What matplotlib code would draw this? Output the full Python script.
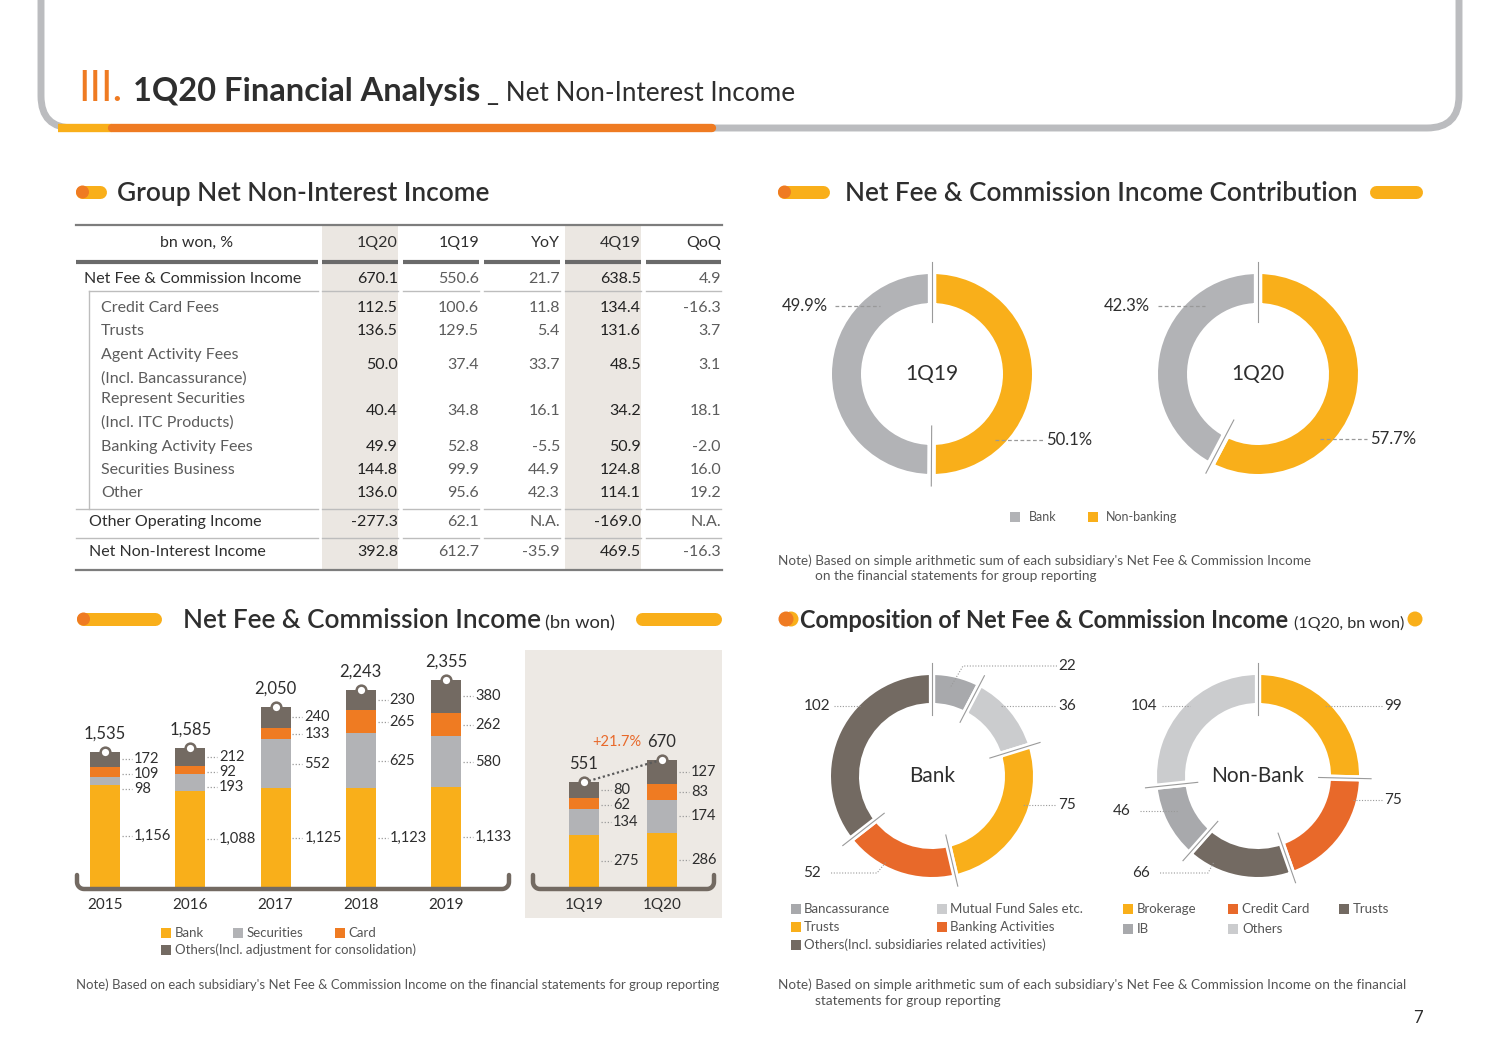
import matplotlib
matplotlib.use('Agg')
import matplotlib.pyplot as plt
from matplotlib.patches import FancyBboxPatch, Rectangle, Circle
import numpy as np

plt.rcParams['font.family'] = ['Lato', 'DejaVu Sans']

# ------------------------------------------------------------------ data
table_cols = ['1Q20', '1Q19', 'YoY', '4Q19', 'QoQ']
table_rows = ['Net Fee & Commission Income', 'Credit Card Fees', 'Trusts',
              'Agent Activity Fees\n(Incl. Bancassurance)',
              'Represent Securities\n(Incl. ITC Products)',
              'Banking Activity Fees', 'Securities Business', 'Other',
              'Other Operating Income', 'Net Non-Interest Income']
val_1q20 = ['670.1', '112.5', '136.5', '50.0', '40.4', '49.9', '144.8', '136.0', '-277.3', '392.8']
val_1q19 = ['550.6', '100.6', '129.5', '37.4', '34.8', '52.8', '99.9', '95.6', '62.1', '612.7']
val_yoy = ['21.7', '11.8', '5.4', '33.7', '16.1', '-5.5', '44.9', '42.3', 'N.A.', '-35.9']
val_4q19 = ['638.5', '134.4', '131.6', '48.5', '34.2', '50.9', '124.8', '114.1', '-169.0', '469.5']
val_qoq = ['4.9', '-16.3', '3.7', '3.1', '18.1', '-2.0', '16.0', '19.2', 'N.A.', '-16.3']

contrib_labels = ['Non-banking', 'Bank']
contrib_1q19 = [50.1, 49.9]
contrib_1q20 = [57.7, 42.3]

years = ['2015', '2016', '2017', '2018', '2019']
ann_bank = [1156, 1088, 1125, 1123, 1133]
ann_sec = [98, 193, 552, 625, 580]
ann_card = [109, 92, 133, 265, 262]
ann_other = [172, 212, 240, 230, 380]
ann_total = [1535, 1585, 2050, 2243, 2355]

quarters = ['1Q19', '1Q20']
q_bank = [275, 286]
q_sec = [134, 174]
q_card = [62, 83]
q_other = [80, 127]
q_total = [551, 670]
q_growth = '+21.7%'

bank_cats = ['Bancassurance', 'Mutual Fund Sales etc.', 'Trusts', 'Banking Activities',
             'Others(Incl. subsidiaries related activities)']
bank_vals = [22, 36, 75, 52, 102]
nonbank_cats = ['Brokerage', 'Credit Card', 'Trusts', 'IB', 'Others']
nonbank_vals = [99, 75, 66, 46, 104]

# ------------------------------------------------------------------ style
YEL = '#F9AF1A'
ORG = '#EF7B22'
ORG2 = '#E8692A'
GRY = '#B2B3B6'
LGRY = '#CBCCCE'
MGRY = '#A8A9AC'
BRN = '#736A62'
TXT = '#2E2E2E'
SUB = '#555555'
SHADE = '#EBE7E2'

W, H = 1499, 1060
fig = plt.figure(figsize=(W / 100, H / 100), dpi=100)
renderer = fig.canvas.get_renderer()


def px_axes(x0, y0, x1, y1, z=2):
    ax = fig.add_axes([x0 / W, 1 - y1 / H, (x1 - x0) / W, (y1 - y0) / H], zorder=z)
    ax.patch.set_alpha(0)
    ax.axis('off')
    return ax


bg = px_axes(0, 0, W, H, z=0)
bg.set_xlim(0, W); bg.set_ylim(H, 0)
fg = px_axes(0, 0, W, H, z=6)
fg.set_xlim(0, W); fg.set_ylim(H, 0)


def fit(ax, x, y, s, width, **kw):
    t = ax.text(x, y, s, **kw)
    bb = t.get_window_extent(renderer=renderer)
    t.set_fontsize(t.get_fontsize() * width / bb.width)
    return t


def pill(x0, x1, y, h, left=ORG, col=YEL):
    bg.plot([x0 + h / 2, x1 - h / 2], [y, y], color=col, lw=h * 0.72,
            solid_capstyle='round', zorder=3)
    if left is not None:
        bg.add_patch(Circle((x0 + h / 2, y), h / 2, color=left, zorder=4, lw=0))


def tray(x0, x1, y, h=14, r=7, lw=3.2):
    pts = [(x0, y - h)]
    t = np.linspace(np.pi, np.pi / 2, 10)
    pts += list(zip(x0 + r + r * np.cos(t), y - r + r * np.sin(t)))
    t = np.linspace(np.pi / 2, 0, 10)
    pts += list(zip(x1 - r + r * np.cos(t), y - r + r * np.sin(t)))
    pts.append((x1, y - h))
    p = np.array(pts)
    fg.plot(p[:, 0], p[:, 1], color=BRN, lw=lw, solid_capstyle='round',
            solid_joinstyle='round')


def sq(x, y, c, s=10):
    bg.add_patch(Rectangle((x - s / 2, y - s / 2), s, s, color=c, lw=0))


# ------------------------------------------------------------------ header
frame = FancyBboxPatch((41, -80), 1418, 208, boxstyle='round,pad=0,rounding_size=32',
                       fill=False, ec='#BBBCBF', lw=5, zorder=1)
bg.add_patch(frame)
bg.plot([58, 112], [128, 128], color=YEL, lw=6, solid_capstyle='butt', zorder=2)
bg.plot([112, 712], [128, 128], color=ORG, lw=6, solid_capstyle='round', zorder=2)
fit(fg, 78, 101, 'III.', 45, color=ORG, va='baseline', fontsize=36)
fit(fg, 133, 101, '1Q20 Financial Analysis', 348, color=TXT, va='baseline',
    fontweight='bold', fontsize=24)
fit(fg, 487, 101, '_ Net Non-Interest Income', 306, color=TXT, va='baseline', fontsize=18)

# ------------------------------------------------------------------ section titles
pill(76, 107, 192, 13)
fit(fg, 117, 201, 'Group Net Non-Interest Income', 373, color=TXT, va='baseline',
    fontweight='semibold', fontsize=18)
pill(778, 830, 192, 13)
pill(1370, 1423, 192, 13, left=None)
fit(fg, 845, 201, 'Net Fee & Commission Income Contribution', 511, color=TXT,
    va='baseline', fontweight='semibold', fontsize=18)
pill(77, 162, 619, 13)
pill(636, 722, 619, 13, left=None)
fit(fg, 183, 628, 'Net Fee & Commission Income', 356, color=TXT, va='baseline',
    fontweight='semibold', fontsize=18)
fit(fg, 545, 628, '(bn won)', 70, color=TXT, va='baseline', fontsize=12)
bg.add_patch(Circle((791, 619), 7.5, color=YEL, lw=0))
bg.add_patch(Circle((786, 619), 7.5, color=ORG, lw=0))
bg.add_patch(Circle((1415, 619), 7.5, color=YEL, lw=0))
fit(fg, 800, 628, 'Composition of Net Fee & Commission Income', 490, color=TXT,
    va='baseline', fontweight='bold', fontsize=18)
fit(fg, 1294, 628, '(1Q20, bn won)', 110, color=TXT, va='baseline', fontsize=12)

# ------------------------------------------------------------------ table
bg.add_patch(Rectangle((322, 224), 76, 346, color=SHADE, lw=0, zorder=1))
bg.add_patch(Rectangle((565, 224), 76, 346, color=SHADE, lw=0, zorder=1))
bg.plot([76, 722], [225, 225], color='#7d7d7d', lw=1.6, zorder=2)
bg.plot([76, 722], [570, 570], color='#7d7d7d', lw=1.6, zorder=2)
col_segs = [(322, 398), (403, 479), (484, 560), (565, 641), (646, 721)]
col_right = [s[1] for s in col_segs]
for a, b in [(76, 318)] + col_segs:
    bg.plot([a, b], [262, 262], color='#6a6a6a', lw=3, solid_capstyle='butt', zorder=2)
for yy, a0 in [(291, 89), (509, 76), (538, 76)]:
    for a, b in [(a0, 318)] + col_segs:
        bg.plot([a, b], [yy, yy], color='#bdbdbd', lw=1, zorder=2)
bg.plot([89, 89], [291, 509], color='#bdbdbd', lw=1, zorder=2)

fs_t = 11.5
fg.text(197, 243, 'bn won, %', ha='center', va='center', fontsize=fs_t, color=TXT)
for c, xr in zip(table_cols, col_right):
    fg.text(xr, 243, c, ha='right', va='center', fontsize=fs_t, color=TXT)

row_y = [279, 308, 331, 367, 411, 447, 470, 493, 522, 552]
row_x = [84, 101, 101, 101, 101, 101, 101, 101, 89, 89]
val_y = [279, 308, 331, 365, 411, 447, 470, 493, 522, 552]
cols = [val_1q20, val_1q19, val_yoy, val_4q19, val_qoq]
LIGHT = '#5c5c5c'
for i, lab in enumerate(table_rows):
    sub = row_x[i] == 101
    lines = lab.split('\n')
    if len(lines) == 1:
        fg.text(row_x[i], row_y[i], lab, va='center', fontsize=fs_t,
                color=LIGHT if sub else TXT)
    else:
        for k, ln in enumerate(lines):
            fg.text(row_x[i], row_y[i] - 11.5 + 23 * k, ln, va='center', fontsize=fs_t,
                    color=LIGHT)
    for j, (vals, xr) in enumerate(zip(cols, col_right)):
        strong = j in (0, 3)
        fg.text(xr, val_y[i], vals[i], ha='right', va='center', fontsize=fs_t,
                color='#222222' if strong else LIGHT)

# ------------------------------------------------------------------ contribution donuts
def donut(cx, cy, R, vals, colors, ring=28, lw_gap=5, center=None, pad=1.3,
          line_in=0.55, line_out=1.1):
    s = R * pad
    ax = px_axes(cx - s, cy - s, cx + s, cy + s, z=2)
    g = lw_gap * 100 / 72 / 2  # half gap in px
    ax.pie(vals, radius=(R + g) / R, startangle=90, counterclock=False,
           colors=colors,
           wedgeprops=dict(width=(ring + 2 * g) / R, edgecolor='white', linewidth=lw_gap))
    ax.set_xlim(-pad, pad); ax.set_ylim(-pad, pad); ax.set_aspect('equal')
    ax.axis('off')
    cum = np.cumsum([0] + list(vals))[:-1]
    ang = np.deg2rad(90 - 360 * cum / np.sum(vals))
    for a in ang:
        ax.plot([line_in * np.cos(a), line_out * np.cos(a)],
                [line_in * np.sin(a), line_out * np.sin(a)], color='#9a9a9a', lw=0.8, zorder=5)
    if center:
        ax.text(0, 0, center, ha='center', va='center', fontsize=15, color=TXT)
    return ax


donut(932, 374, 100, contrib_1q19, [YEL, GRY], ring=29, lw_gap=6, center='1Q19',
      line_in=0.52, line_out=1.12)
donut(1258, 374, 100, contrib_1q20, [YEL, GRY], ring=29, lw_gap=6, center='1Q20',
      line_in=0.52, line_out=1.12)
for (tx, ty, s, a, b) in [(805, 306, f'{contrib_1q19[1]}%', 835, 880),
                          (1069, 440, f'{contrib_1q19[0]}%', 995, 1043),
                          (1127, 306, f'{contrib_1q20[1]}%', 1158, 1205),
                          (1393, 439, f'{contrib_1q20[0]}%', 1320, 1367)]:
    fg.text(tx, ty, s, ha='center', va='center', fontsize=12, color=TXT)
    fg.plot([a, b], [ty, ty], color='#999999', lw=0.9, ls=(0, (3, 2)))
sq(1015, 517, GRY)
fg.text(1029, 517, 'Bank', va='center', fontsize=9, color=SUB)
sq(1093, 517, YEL)
fg.text(1106, 517, 'Non-banking', va='center', fontsize=9, color=SUB)
fit(fg, 778, 561, "Note) Based on simple arithmetic sum of each subsidiary's Net Fee & Commission Income",
    531, va='center', fontsize=9, color=SUB)
fit(fg, 815, 576, 'on the financial statements for group reporting', 281, va='center',
    fontsize=9, color=SUB)

# ------------------------------------------------------------------ stacked bars
def stacked(ax, labels, series, totals, pxu, ppx, bw_px=30, gap_px=15, lab_fs=10.5,
            tot_fs=12):
    xs = np.arange(len(labels))
    colors = [YEL, GRY, ORG, BRN]
    bw = bw_px / ppx
    bottoms = np.zeros(len(xs))
    mids = []
    for vals, c in zip(series, colors):
        vals = np.array(vals, float)
        ax.bar(xs, vals, width=bw, bottom=bottoms, color=c, lw=0, zorder=2)
        mids.append(bottoms + vals / 2)
        bottoms = bottoms + vals
    gap = gap_px / pxu
    for i in range(len(xs)):
        order = [3, 2, 1, 0]
        prev = None
        for k in order:
            y = mids[k][i]
            if prev is not None:
                y = min(y, prev - gap)
            prev = y
            x0 = xs[i] + bw / 2 + 2 / ppx
            x1 = xs[i] + bw / 2 + 12 / ppx
            ax.plot([x0, x1], [y, y], color='#9a9a9a', lw=0.9, ls=(0, (1, 1.5)),
                    clip_on=False, zorder=3)
            ax.text(x1 + 2 / ppx, y, f'{series[k][i]:,}', va='center', ha='left',
                    fontsize=lab_fs, color=TXT, clip_on=False)
        ax.text(xs[i], totals[i] + 18 / pxu, f'{totals[i]:,}', ha='center', va='center',
                fontsize=tot_fs, color=TXT, clip_on=False)
        ax.text(xs[i], -18 / pxu, labels[i], ha='center', va='center', fontsize=11,
                color=TXT, clip_on=False)
    ax.plot(xs, totals, 'o', ms=7, mfc='white', mec=BRN, mew=1.8, zorder=4, clip_on=False)
    return xs


# annual
ppx_a, pxu_a = 85.25, 0.088
axA = px_axes(76, 650, 512, 887, z=3)
axA.set_xlim(-29 / ppx_a, -29 / ppx_a + 436 / ppx_a)
axA.set_ylim(0, 237 / pxu_a)
stacked(axA, years, [ann_bank, ann_sec, ann_card, ann_other], ann_total, pxu_a, ppx_a)
tray(77, 509, 889)

# quarterly
bg.add_patch(Rectangle((525, 650), 197, 268, color='#EDE9E4', lw=0, zorder=1))
ppx_q, pxu_q = 78.0, 0.19
axQ = px_axes(525, 650, 722, 887, z=3)
axQ.set_xlim(-59 / ppx_q, -59 / ppx_q + 197 / ppx_q)
axQ.set_ylim(0, 237 / pxu_q)
xq = stacked(axQ, quarters, [q_bank, q_sec, q_card, q_other], q_total, pxu_q, ppx_q)
axQ.plot(xq, q_total, color='#5a5a5a', lw=1.6, ls=(0, (1, 1.2)), zorder=3)
axQ.text(33 / ppx_q, q_total[0] + (782 - 742) / pxu_q, q_growth, ha='center', va='center',
         fontsize=10.5, color=ORG2)
tray(533, 714, 889)

# bar legend
sq(166, 933, YEL); fg.text(175, 933, 'Bank', va='center', fontsize=9.5, color=SUB)
sq(238, 933, GRY); fg.text(247, 933, 'Securities', va='center', fontsize=9.5, color=SUB)
sq(340, 933, ORG); fg.text(348, 933, 'Card', va='center', fontsize=9.5, color=SUB)
sq(166, 950, BRN); fg.text(175, 950, 'Others(Incl. adjustment for consolidation)',
                           va='center', fontsize=9.5, color=SUB)
fit(fg, 76, 985, "Note) Based on each subsidiary's Net Fee & Commission Income on the financial statements for group reporting",
    646, va='center', fontsize=9, color=SUB)

# ------------------------------------------------------------------ composition donuts
bank_cols = [MGRY, LGRY, YEL, ORG2, BRN]
nonbank_cols = [YEL, ORG2, BRN, MGRY, LGRY]
donut(932, 776, 101, bank_vals, bank_cols, ring=28, lw_gap=4.5, center='Bank',
      line_in=0.6, line_out=1.12)
donut(1258, 776, 101, nonbank_vals, nonbank_cols, ring=28, lw_gap=4.5, center='Non-Bank',
      line_in=0.6, line_out=1.12)

leaders = [
    (1067, 666, bank_vals[0], [(1057, 666), (963, 666), (950, 688)]),
    (1067, 706, bank_vals[1], [(1055, 706), (1000, 706)]),
    (1067, 805, bank_vals[2], [(1055, 805), (1022, 805)]),
    (812, 873, bank_vals[3], [(831, 873), (877, 873), (886, 862)]),
    (817, 706, bank_vals[4], [(834, 706), (860, 706)]),
    (1393, 706, nonbank_vals[0], [(1382, 706), (1325, 706)]),
    (1393, 800, nonbank_vals[1], [(1382, 800), (1352, 800)]),
    (1141, 873, nonbank_vals[2], [(1160, 873), (1208, 873), (1214, 862)]),
    (1122, 811, nonbank_vals[3], [(1140, 811), (1178, 811)]),
    (1144, 706, nonbank_vals[4], [(1162, 706), (1190, 706)]),
]
for tx, ty, v, pts in leaders:
    fg.text(tx, ty, str(v), ha='center', va='center', fontsize=11, color=TXT)
    p = np.array(pts)
    fg.plot(p[:, 0], p[:, 1], color='#9a9a9a', lw=0.8, ls=(0, (1, 1.5)))

bank_leg = [(796, 909), (942, 909), (796, 927), (942, 927), (796, 945)]
for (x, y), c, lab in zip(bank_leg, bank_cols, bank_cats):
    sq(x, y, c)
    fg.text(x + 8, y, lab, va='center', fontsize=9.5, color=SUB)
nb_leg = [(1128, 909), (1233, 909), (1344, 909), (1128, 929), (1233, 929)]
for (x, y), c, lab in zip(nb_leg, nonbank_cols, nonbank_cats):
    sq(x, y, c)
    fg.text(x + 9, y, lab, va='center', fontsize=9.5, color=SUB)

fit(fg, 778, 985, "Note) Based on simple arithmetic sum of each subsidiary's Net Fee & Commission Income on the financial",
    627, va='center', fontsize=9, color=SUB)
fit(fg, 815, 1001, 'statements for group reporting', 186, va='center', fontsize=9, color=SUB)
fg.text(1418, 1018, '7', ha='center', va='center', fontsize=12, color=TXT)

fig.savefig('out.png', dpi=100)
